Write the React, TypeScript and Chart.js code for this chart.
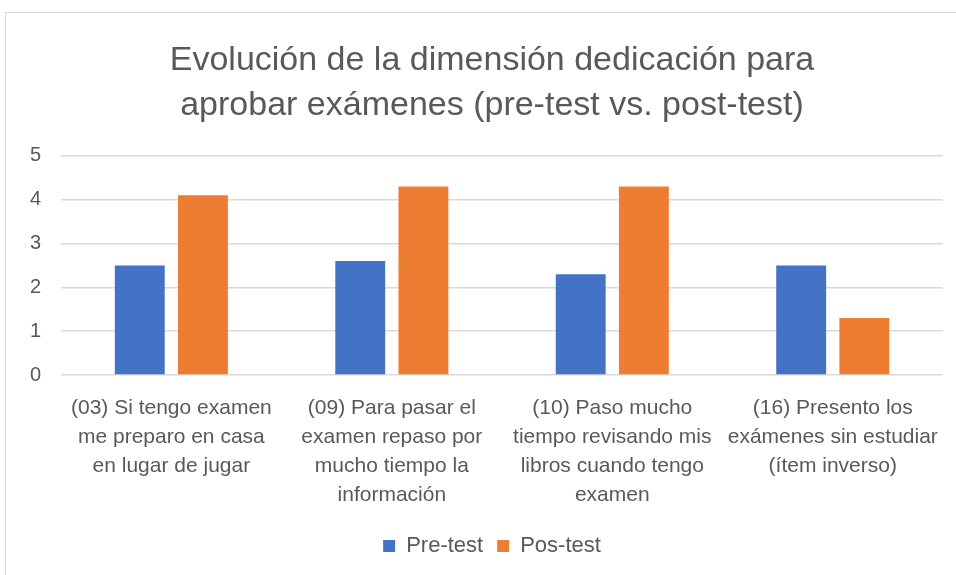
import React, { useEffect, useRef } from "react";
import { Chart, registerables } from "chart.js";

Chart.register(...registerables);

const titleLines = ["Evolución de la dimensión dedicación para", "aprobar exámenes (pre-test vs. post-test)"];
const categories: string[][] = [
  ["(03) Si tengo examen", "me preparo en casa", "en lugar de jugar"],
  ["(09) Para pasar el", "examen repaso por", "mucho tiempo la", "información"],
  ["(10) Paso mucho", "tiempo revisando mis", "libros cuando tengo", "examen"],
  ["(16) Presento los", "exámenes sin estudiar", "(ítem inverso)"],
];
const preTest = [2.5, 2.6, 2.3, 2.5];
const posTest = [4.1, 4.3, 4.3, 1.3];
const seriesNames = ["Pre-test", "Pos-test"];

const FONT = "'Liberation Sans', Arial, sans-serif";
const TEXT = "#595959";
const CANVAS_W = 974;

export default function App() {
  const ref = useRef<HTMLCanvasElement | null>(null);
  useEffect(() => {
    if (!ref.current) return;
    const chart = new Chart(ref.current, {
      type: "bar",
      data: {
        labels: categories,
        datasets: [
          { label: seriesNames[0], data: preTest, backgroundColor: "#4472C4", categoryPercentage: 0.573, barPercentage: 0.79 },
          { label: seriesNames[1], data: posTest, backgroundColor: "#ED7D31", categoryPercentage: 0.573, barPercentage: 0.79 },
        ],
      },
      options: {
        animation: false,
        responsive: false,
        maintainAspectRatio: false,
        layout: { padding: { left: 10, right: 0, top: 14, bottom: 8 } },
        plugins: {
          title: {
            display: true,
            text: titleLines,
            color: TEXT,
            font: { family: FONT, size: 34, weight: "normal", lineHeight: 1.32 },
            padding: { top: 24, bottom: 28 },
          },
          legend: {
            position: "bottom",
            labels: {
              color: TEXT,
              font: { family: FONT, size: 22 },
              boxWidth: 12,
              boxHeight: 12,
              padding: 14,
            },
          },
          tooltip: { enabled: false },
        },
        scales: {
          x: {
            grid: { display: false },
            border: { display: false },
            ticks: {
              color: TEXT,
              font: { family: FONT, size: 21, lineHeight: 1.38 },
              padding: 11,
              maxRotation: 0,
              autoSkip: false,
            },
          },
          y: {
            min: 0,
            max: 5,
            grid: { color: "#d9d9d9", lineWidth: 1.5, drawTicks: false },
            border: { display: false },
            ticks: {
              stepSize: 1,
              color: TEXT,
              font: { family: FONT, size: 20 },
              padding: 20,
            },
          },
          yPad: {
            position: "right",
            display: true,
            grid: { display: false },
            border: { display: false },
            ticks: { display: false },
            afterFit: (s: any) => {
              s.width = 31;
            },
          },
        },
      },
    });
    return () => chart.destroy();
  }, []);
  return (
    <div style={{ position: "fixed", left: 0, top: 0, width: 956, height: 575, background: "#fff", overflow: "hidden" }}>
      <div style={{ position: "absolute", left: 5, top: 12, width: 1000, height: 1000, border: "1px solid #d9d9d9" }} />
      <canvas ref={ref} width={CANVAS_W} height={575} style={{ position: "absolute", left: 0, top: 0, width: CANVAS_W, height: 575 }} />
    </div>
  );
}
